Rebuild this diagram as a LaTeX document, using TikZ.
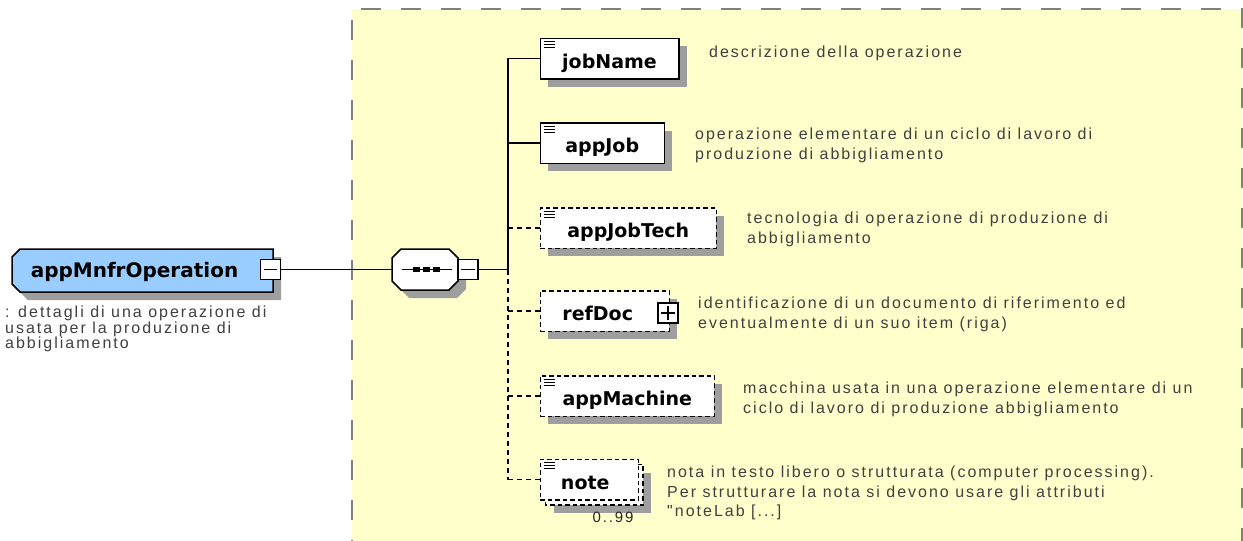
\documentclass[tikz,border=0pt]{standalone}
\usepackage{fontspec}
\usetikzlibrary{positioning,shadows}

\newfontfamily\elemfam{DejaVu Sans}
\newfontfamily\descfam{Liberation Sans}[LetterSpace=12.5]
\newcommand{\elemfont}{\elemfam\bfseries\fontsize{19}{22}\selectfont}
\newcommand{\descfont}{\descfam\fontsize{16}{19.5}\selectfont}
\newcommand{\leftdescfont}{\descfam\fontsize{16}{15.5}\selectfont}

\definecolor{seqyellow}{RGB}{255,255,204}
\definecolor{elemblue}{RGB}{153,204,255}
\definecolor{framegray}{RGB}{128,128,128}

\tikzset{
  shade/.style={drop shadow={shadow xshift=8pt, shadow yshift=-8pt, fill=black!38, opacity=1}},
  box/.style={draw, fill=white, line width=1.5pt, minimum height=40.5pt, inner sep=0pt,
    font=\elemfont, text height=19pt, text depth=0pt},
  elem/.style={box, shade},
  opt/.style={dash pattern=on 4.5pt off 3pt},
  link/.style={line width=1.5pt},
  optlink/.style={link, dash pattern=on 5pt off 4pt},
  desc/.style={anchor=north west, inner sep=0pt, align=left, font=\descfont, text=black!75},
  pmbox/.style={draw, fill=white, line width=1.1pt, minimum size=20pt, inner sep=0pt},
}

\begin{document}
\begin{tikzpicture}[x=1pt, y=-1pt]
  \useasboundingbox (0,0) rectangle (1243,541);

  % frame of the sequence
  \fill[seqyellow] (352,9) rectangle (1242,560);
  \draw[framegray, line width=2pt, dash pattern=on 20pt off 20pt]
    (352,560) -- (352,9) -- (1242,9) -- (1242,560);

  % outlines of root element and compositor
  \filldraw[fill=elemblue, line width=1.5pt, shade]
    (20,249) -- (273,249) -- (273,292) -- (20,292) -- (12,284) -- (12,257) -- cycle;
  \filldraw[fill=white, line width=1.5pt, shade]
    (401,249) -- (449,249) -- (458,258) -- (458,281) -- (449,290) -- (401,290)
    -- (392,281) -- (392,258) -- cycle;

  % root element
  \node[minimum width=261pt, minimum height=43pt, inner sep=0pt,
    font=\elemfam\bfseries\fontsize{20}{24}\selectfont, text height=13pt, text depth=0pt]
    (op) at (142.5,270.5) {appMnfrOperation\hspace*{16pt}};
  \node[pmbox] (opMinus) at ([xshift=-3pt,yshift=1pt]op.east) {};
  \node[desc, font=\leftdescfont] (opDesc) at (5,306)
    {: dettagli di una operazione di\\usata per la produzione di\\abbigliamento};

  % sequence compositor
  \node[minimum width=66pt, minimum height=41pt, inner sep=0pt] (seq) at (425,269.5) {};
  \node[pmbox] (seqMinus) at ([xshift=43pt]seq.center) {};
  \draw[link] ([xshift=-23pt]seq.center) -- ([xshift=27pt]seq.center);
  \foreach \dx in {-12,-2,8}
    \fill ([xshift=\dx pt, yshift=2.5pt]seq.center) rectangle ++(7,5);

  % children
  \node[elem, minimum width=138.5pt, anchor=west] (jobName) at (539.5,58.5) {jobName};
  \node[elem, minimum width=124pt, below=84.5pt of jobName.west, anchor=west] (appJob) {appJob};
  \node[elem, opt, minimum width=176pt, below=85pt of appJob.west, anchor=west] (appJobTech) {appJobTech};
  \node[elem, opt, minimum width=129pt, below=83pt of appJobTech.west, anchor=west] (refDoc) {refDoc\hspace*{14pt}};
  \node[elem, opt, minimum width=174pt, below=85pt of refDoc.west, anchor=west] (appMachine) {appMachine};
  \path[draw, fill=white, line width=1.5pt, opt, shade] (545.5,464.5) rectangle (643,505);
  \node[box, opt, minimum width=98pt, below=83.5pt of appMachine.west, anchor=west] (note) {note\hspace*{8pt}};
  \node[pmbox] (refPlus) at ([xshift=-2pt,yshift=-2pt]refDoc.east) {};
  \node[font=\descfam\fontsize{15}{16}\selectfont, text=black!85, anchor=base, inner sep=0pt]
    (noteCount) at (613,522) {0..99};

  % icons
  \foreach \n in {jobName,appJob,appJobTech,appMachine,note}
    \foreach \dy in {4,7,10}
      \draw[line width=1pt] ([xshift=4pt,yshift=-\dy pt]\n.north west) -- ++(11,0);
  \draw[line width=1.1pt] ([xshift=4pt]opMinus.west) -- ([xshift=-4pt]opMinus.east);
  \draw[line width=1.1pt] ([xshift=4pt]seqMinus.west) -- ([xshift=-4pt]seqMinus.east);
  \draw[line width=1.1pt] ([xshift=4pt]refPlus.west) -- ([xshift=-4pt]refPlus.east)
    ([yshift=-4pt]refPlus.north) -- ([yshift=4pt]refPlus.south);

  % connectors
  \coordinate (bus) at ([xshift=29.3pt]seqMinus.east);
  \draw[link] (opMinus.east) -- (opMinus.east -| seq.west);
  \draw[link] (seqMinus.east) -- (bus);
  \draw[link] (bus) -- (bus |- jobName.west) -- (jobName.west);
  \draw[link] (bus |- appJob.west) -- (appJob.west);
  \draw[optlink] (bus) -- (bus |- note.west);
  \foreach \n in {appJobTech,refDoc,appMachine,note}
    \draw[optlink] (bus |- \n.west) -- (\n.west);

  % descriptions
  \node[desc] (jobNameDesc) at (709,46) {descrizione della operazione};
  \node[desc] (appJobDesc) at (695,128)
    {operazione elementare di un ciclo di lavoro di\\produzione di abbigliamento};
  \node[desc] (appJobTechDesc) at (747,212)
    {tecnologia di operazione di produzione di\\abbigliamento};
  \node[desc] (refDocDesc) at (698,297)
    {identificazione di un documento di riferimento ed\\eventualmente di un suo item (riga)};
  \node[desc] (appMachineDesc) at (743,382)
    {macchina usata in una operazione elementare di un\\ciclo di lavoro di produzione abbigliamento};
  \node[desc] (noteDesc) at (667,466)
    {nota in testo libero o strutturata (computer processing).\\Per strutturare la nota si devono usare gli attributi\\"noteLab [...]};
\end{tikzpicture}
\end{document}
